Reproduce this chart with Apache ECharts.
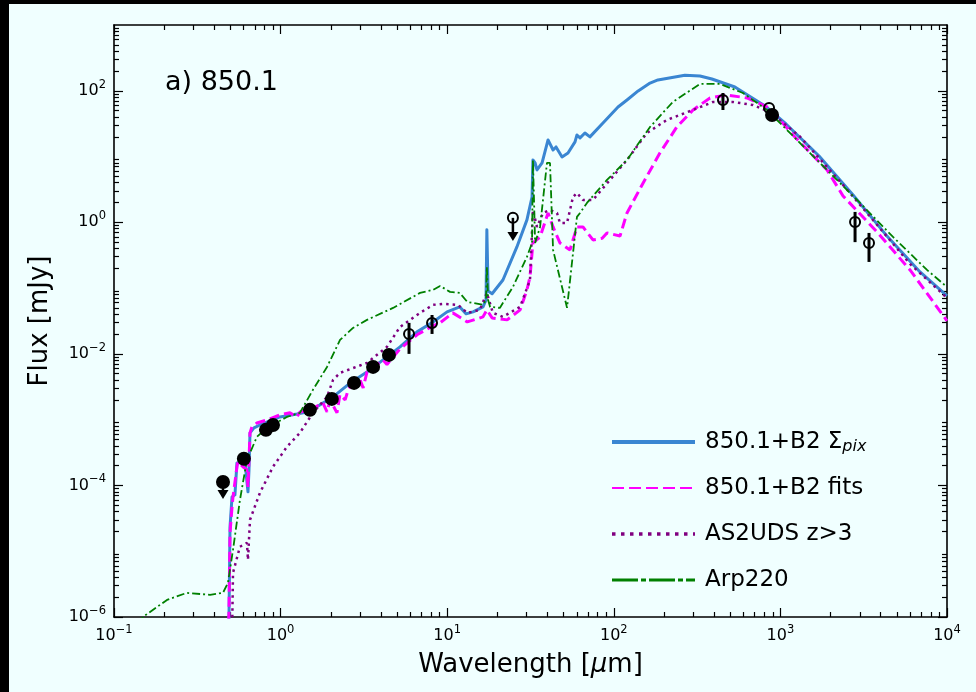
<!DOCTYPE html>
<html>
<head>
<meta charset="utf-8">
<script src="https://cdn.jsdelivr.net/npm/echarts@6/dist/echarts.min.js"></script>
<style>
  html, body { margin: 0; padding: 0; width: 976px; height: 692px; overflow: hidden; background: #000; }
  #chart { position: absolute; left: 9px; top: 4px; width: 967px; height: 688px; background: #f0ffff; }
</style>
</head>
<body>
<div id="chart"></div>
<script>
// Spectral energy distribution of 850.1: wavelength in µm, flux density in mJy.

// 850.1+B2 Σpix model
const sigmaPixWave = [0.483, 0.490, 0.497, 0.511, 0.532, 0.547, 0.611, 0.637, 0.646, 0.655, 0.692, 0.751, 0.863, 0.991, 1.253, 1.439, 1.652, 2.065, 2.61, 3.30, 4.12, 5.21, 6.59, 8.22, 9.98, 11.9, 13.0, 14.3, 16.4, 17.1, 17.3, 17.6, 18.6, 21.6, 26.2, 30.1, 32.3, 32.7, 33.7, 34.6, 37.1, 40.3, 43.2, 45.0, 48.9, 53.1, 58.5, 60.1, 62.7, 67.1, 71.9, 86.1, 106, 120, 140, 165, 184, 267, 329, 388, 533, 809, 1081, 1706, 2729, 4305, 6887, 10000];
const sigmaPixFlux = [3e-7, 1e-6, 2.35e-5, 6.7e-5, 7.2e-5, 2.2e-4, 2.3e-4, 8e-5, 1.7e-4, 6.3e-4, 7.5e-4, 8.3e-4, 9.6e-4, 1.1e-3, 1.22e-3, 1.31e-3, 1.57e-3, 2.22e-3, 3.6e-3, 5.3e-3, 8.1e-3, 1.28e-2, 2.16e-2, 3.06e-2, 4.35e-2, 5.18e-2, 4.06e-2, 4.35e-2, 5.18e-2, 6.6e-2, 0.77, 0.09, 0.082, 0.133, 0.423, 1.09, 2.43, 8.88, 8.0, 6.25, 8.0, 17.9, 12.6, 14.0, 9.86, 11.3, 16.7, 21.3, 19.2, 22.8, 19.9, 32.4, 56.7, 72.5, 99.4, 131, 146, 172, 168, 151, 114, 58.8, 31.3, 10.2, 2.61, 0.644, 0.176, 0.076];

// 850.1+B2 fits
const fitsWave = [0.483, 0.490, 0.497, 0.511, 0.518, 0.547, 0.555, 0.594, 0.628, 0.637, 0.646, 0.655, 0.673, 0.721, 0.828, 0.991, 1.137, 1.253, 1.306, 1.50, 1.795, 1.90, 1.981, 2.18, 2.27, 2.44, 2.55, 2.72, 3.0, 3.13, 3.30, 4.12, 4.35, 5.21, 6.59, 8.22, 9.06, 10.8, 13.2, 16.4, 17.3, 18.6, 22.9, 27.4, 30.1, 31.4, 32.7, 36.1, 40.3, 43.2, 47.5, 54.6, 60.1, 65.3, 75.0, 84.9, 91.0, 109, 120, 150, 189, 239, 299, 378, 478, 630, 831, 995, 1191, 1906, 2377, 3801, 5998, 10000];
const fitsFlux = [5e-7, 1.16e-6, 1.9e-5, 4.7e-5, 6.7e-5, 1.92e-4, 2.29e-4, 1.92e-4, 1.73e-4, 9.5e-5, 2.45e-4, 6.3e-4, 7.8e-4, 8.9e-4, 9.9e-4, 1.18e-3, 1.27e-3, 1.10e-3, 1.31e-3, 1.41e-3, 1.80e-3, 1.31e-3, 2.0e-3, 1.27e-3, 2.4e-3, 2.0e-3, 2.9e-3, 3.6e-3, 4.03e-3, 3.04e-3, 5.3e-3, 8.1e-3, 6.9e-3, 1.19e-2, 1.95e-2, 2.67e-2, 2.96e-2, 4.2e-2, 3.06e-2, 3.65e-2, 4.67e-2, 3.52e-2, 3.29e-2, 4.67e-2, 9.4e-2, 0.148, 0.486, 0.60, 1.39, 0.851, 0.486, 0.381, 0.851, 0.851, 0.54, 0.57, 0.69, 0.62, 1.39, 3.97, 11.3, 28.2, 51.1, 77.8, 86.3, 77.8, 56.7, 36.0, 21.3, 6.25, 2.52, 0.714, 0.189, 0.0318];

// AS2UDS z>3 composite
const as2udsWave = [0.511, 0.518, 0.570, 0.628, 0.637, 0.655, 0.751, 0.900, 1.091, 1.306, 1.563, 1.90, 2.065, 2.274, 3.30, 4.35, 5.21, 6.87, 8.22, 9.44, 11.6, 13.2, 15.7, 17.3, 18.8, 21.6, 27.4, 31.4, 32.7, 34.6, 37.6, 41.4, 45.6, 47.5, 52.4, 56.9, 60.1, 65.3, 75.0, 94.8, 120, 158, 208, 299, 394, 519, 684, 866, 1313, 2377, 3801, 5998, 10000];
const as2udsFlux = [5e-7, 4.7e-6, 1.17e-5, 1.34e-5, 7.4e-6, 3.0e-5, 7.7e-5, 1.92e-4, 3.86e-4, 6.3e-4, 1.27e-3, 2.22e-3, 4.03e-3, 5.14e-3, 7.3e-3, 1.28e-2, 2.57e-2, 4.2e-2, 5.56e-2, 5.75e-2, 5.56e-2, 4.2e-2, 4.67e-2, 8.46e-2, 4.2e-2, 3.65e-2, 5.18e-2, 0.133, 1.54, 0.851, 1.39, 1.54, 1.39, 0.979, 0.979, 2.43, 2.80, 2.19, 2.19, 4.41, 8.88, 22.8, 36.0, 51.1, 67.6, 67.6, 60.8, 47.6, 20.0, 3.7, 0.92, 0.233, 0.071];

// Arp220 template
const arp220Wave = [0.143, 0.149, 0.208, 0.274, 0.377, 0.451, 0.483, 0.518, 0.570, 0.628, 0.721, 0.828, 1.091, 1.306, 1.563, 1.90, 2.274, 2.72, 3.30, 4.73, 6.87, 8.22, 9.06, 10.4, 11.9, 13.2, 16.4, 17.1, 17.3, 17.6, 18.1, 20.7, 24.8, 30.1, 32.3, 32.7, 33.2, 33.7, 36.1, 39.7, 41.4, 43.2, 52.4, 60.1, 62.7, 69.0, 91.0, 120, 165, 226, 329, 434, 596, 831, 1507, 3006, 4742, 7586, 10000];
const arp220Flux = [7.7e-7, 1e-6, 1.82e-6, 2.33e-6, 2.17e-6, 2.33e-6, 3.3e-6, 1.05e-5, 6e-5, 2.45e-4, 5.48e-4, 7.5e-4, 1.1e-3, 1.27e-3, 2.84e-3, 6.34e-3, 1.63e-2, 2.48e-2, 3.29e-2, 5e-2, 8.46e-2, 9.4e-2, 0.108, 8.76e-2, 8.46e-2, 6.17e-2, 5.56e-2, 6.6e-2, 0.21, 6.6e-2, 5.18e-2, 5e-2, 0.104, 0.298, 0.486, 8.88, 2.19, 0.486, 0.851, 7.99, 7.99, 0.381, 0.05, 1.21, 1.39, 1.97, 4.41, 8.88, 28.2, 67.6, 127, 127, 92.6, 51.1, 11.3, 1.97, 0.6, 0.189, 0.104];

// Photometry: detections (filled)
const detWave = [0.602, 0.817, 0.900, 1.50, 2.03, 2.76, 3.59, 4.47, 891];
const detFlux = [2.54e-4, 7.0e-4, 8.3e-4, 1.41e-3, 2.07e-3, 3.62e-3, 6.34e-3, 9.66e-3, 42.8];
// Photometry with error bars (open)
const errWave = [5.90, 8.11, 452, 2806, 3403];
const errFlux = [0.0201, 0.0296, 72.4, 1.01, 0.486];
const errLow = [0.0100, 0.0201, 51.0, 0.50, 0.25];
const errHigh = [0.0296, 0.039, 92.6, 1.44, 0.69];
// Open point without error bar
const openWave = [855];
const openFlux = [54.8];
// Upper limits: filled and open, with the flux where the arrow ends
const limFilledWave = [0.451];
const limFilledFlux = [1.13e-4];
const limFilledEnd = [7.4e-5];
const limOpenWave = [24.8];
const limOpenFlux = [1.17];
const limOpenEnd = [0.62];

// Axis ticks
const xMajorTicks = [0.1, 1, 10, 100, 1000, 10000];
const yMajorTicks = [1e-6, 1e-4, 1e-2, 1, 100];
const xMinorTicks = minorDecades(-1, 3);
const yMinorTicks = minorDecades(-6, 2);

const seriesNames = ['850.1+B2 Σpix', '850.1+B2 fits', 'AS2UDS z>3', 'Arp220'];
const legendLabels = ['850.1+B2 Σ{sub|pix}', '850.1+B2 fits', 'AS2UDS z>3', 'Arp220'];

const FONT = 'DejaVu Sans';

function minorDecades(k0, k1) {
  const out = [];
  for (let k = k0; k <= k1; k++) {
    for (let m = 2; m <= 9; m++) out.push(+(m * Math.pow(10, k)).toPrecision(6));
  }
  return out;
}

function zip(a, b) { return a.map((v, i) => [v, b[i]]); }

function powLabel(v) {
  const e = Math.round(Math.log10(v));
  return '{b|10}{s|' + String(e).replace('-', '\u2212') + '}';
}

const labelRich = {
  b: { fontSize: 16, lineHeight: 24, fontFamily: FONT, color: '#000' },
  s: { fontSize: 11.5, lineHeight: 13, fontFamily: FONT, color: '#000', verticalAlign: 'top' }
};

function logAxis(dim, pos, ticks, len, extra) {
  const range = dim === 'x' ? { min: 0.1, max: 1e4 } : { min: 1e-6, max: 1e3 };
  return Object.assign({
    type: 'log', logBase: 10, position: pos, min: range.min, max: range.max, gridIndex: 0,
    axisLine: { show: false, onZero: false },
    axisTick: { show: true, inside: true, length: len, customValues: ticks, lineStyle: { color: '#000', width: 1.2 } },
    axisLabel: { show: false },
    splitLine: { show: false },
    minorTick: { show: false },
    minorSplitLine: { show: false },
    axisPointer: { show: false },
    silent: true
  }, extra);
}

const frameLine = { show: true, onZero: false, lineStyle: { color: '#000', width: 1.6 } };

const chart = echarts.init(document.getElementById('chart'), null, { renderer: 'canvas' });

const lineBase = { type: 'line', symbol: 'none', showSymbol: false, xAxisIndex: 0, yAxisIndex: 0, silent: true, clip: true, z: 2 };

chart.setOption({
  animation: false,
  backgroundColor: '#f0ffff',
  grid: { left: 105, right: 29, top: 21, bottom: 75, outerBoundsMode: 'none', containLabel: false },
  xAxis: [
    logAxis('x', 'bottom', xMajorTicks, 9, {
      axisLine: frameLine,
      axisLabel: { show: true, customValues: xMajorTicks, margin: 7, formatter: powLabel, rich: labelRich },
      name: 'Wavelength [{i|μ}m]',
      nameLocation: 'middle',
      nameGap: 35,
      nameTextStyle: {
        fontSize: 26, fontFamily: FONT, color: '#000',
        rich: { i: { fontSize: 26, fontFamily: FONT, fontStyle: 'italic', color: '#000' } }
      }
    }),
    logAxis('x', 'bottom', xMinorTicks, 5, {}),
    logAxis('x', 'top', xMajorTicks, 9, { axisLine: frameLine }),
    logAxis('x', 'top', xMinorTicks, 5, {})
  ],
  yAxis: [
    logAxis('y', 'left', yMajorTicks, 9, {
      axisLine: frameLine,
      axisLabel: { show: true, customValues: yMajorTicks, margin: 8, formatter: powLabel, rich: labelRich },
      name: 'Flux [mJy]',
      nameLocation: 'middle',
      nameGap: 61,
      nameTextStyle: { fontSize: 26, fontFamily: FONT, color: '#000' }
    }),
    logAxis('y', 'left', yMinorTicks, 5, {}),
    logAxis('y', 'right', yMajorTicks, 9, { axisLine: frameLine }),
    logAxis('y', 'right', yMinorTicks, 5, {})
  ],
  legend: {
    orient: 'vertical', left: 601, top: 425, padding: 0,
    itemWidth: 83, itemHeight: 14, itemGap: 20,
    selectedMode: false,
    itemStyle: { opacity: 0 },
    formatter: name => legendLabels[seriesNames.indexOf(name)],
    textStyle: {
      fontSize: 23, fontFamily: FONT, color: '#000', lineHeight: 26, padding: [0, 0, 0, 5],
      rich: { sub: { fontSize: 16, fontFamily: FONT, fontStyle: 'italic', color: '#000', lineHeight: 12, verticalAlign: 'bottom' } }
    },
    data: [
      { name: seriesNames[0], lineStyle: { width: 4, type: 'solid' } },
      { name: seriesNames[1], lineStyle: { width: 2.2, type: [12, 5] } },
      { name: seriesNames[2], lineStyle: { width: 3.5, type: [3.5, 5.5] } },
      { name: seriesNames[3], lineStyle: { width: 3, type: [26, 3, 5, 3] } }
    ]
  },
  graphic: [{
    type: 'text', x: 156, y: 78.5, silent: true,
    style: { text: 'a) 850.1', fontSize: 27, fontFamily: FONT, fill: '#000', align: 'left', verticalAlign: 'middle' }
  }],
  series: [
    Object.assign({}, lineBase, {
      name: seriesNames[0], data: zip(sigmaPixWave, sigmaPixFlux),
      lineStyle: { color: '#3a86d2', width: 3, join: 'round' }, itemStyle: { color: '#3a86d2' }
    }),
    Object.assign({}, lineBase, {
      name: seriesNames[1], data: zip(fitsWave, fitsFlux),
      lineStyle: { color: '#ff00ff', width: 3, type: [10, 5] }, itemStyle: { color: '#ff00ff' }
    }),
    Object.assign({}, lineBase, {
      name: seriesNames[2], data: zip(as2udsWave, as2udsFlux),
      lineStyle: { color: '#800080', width: 2.5, type: [2.5, 4] }, itemStyle: { color: '#800080' }
    }),
    Object.assign({}, lineBase, {
      name: seriesNames[3], data: zip(arp220Wave, arp220Flux),
      lineStyle: { color: '#008000', width: 1.8, type: [8, 3, 2, 3] }, itemStyle: { color: '#008000' }
    }),
    {
      // error bars
      type: 'custom', xAxisIndex: 0, yAxisIndex: 0, silent: true, z: 4,
      data: errWave.map((w, i) => [w, errLow[i], errHigh[i]]),
      encode: { x: 0, y: [1, 2] },
      renderItem: (params, api) => {
        const lo = api.coord([api.value(0), api.value(1)]);
        const hi = api.coord([api.value(0), api.value(2)]);
        return { type: 'line', shape: { x1: lo[0], y1: lo[1], x2: hi[0], y2: hi[1] }, style: { stroke: '#000', lineWidth: 3 } };
      }
    },
    {
      // upper-limit arrows
      type: 'custom', xAxisIndex: 0, yAxisIndex: 0, silent: true, z: 4,
      data: limFilledWave.map((w, i) => [w, limFilledFlux[i], limFilledEnd[i]])
        .concat(limOpenWave.map((w, i) => [w, limOpenFlux[i], limOpenEnd[i]])),
      encode: { x: 0, y: [1, 2] },
      renderItem: (params, api) => {
        const p = api.coord([api.value(0), api.value(1)]);
        const e = api.coord([api.value(0), api.value(2)]);
        return {
          type: 'group', children: [
            { type: 'line', shape: { x1: p[0], y1: p[1], x2: e[0], y2: e[1] }, style: { stroke: '#000', lineWidth: 2.5 } },
            { type: 'polygon', shape: { points: [[e[0] - 5.5, e[1] - 4], [e[0] + 5.5, e[1] - 4], [e[0], e[1] + 5]] }, style: { fill: '#000' } }
          ]
        };
      }
    },
    {
      type: 'scatter', xAxisIndex: 0, yAxisIndex: 0, silent: true, z: 5,
      data: zip(errWave, errFlux).concat(zip(openWave, openFlux), zip(limOpenWave, limOpenFlux)),
      symbol: 'circle', symbolSize: 10,
      itemStyle: { color: 'rgba(0,0,0,0)', borderColor: '#000', borderWidth: 2, opacity: 1 }
    },
    {
      type: 'scatter', xAxisIndex: 0, yAxisIndex: 0, silent: true, z: 6,
      data: zip(detWave, detFlux).concat(zip(limFilledWave, limFilledFlux)),
      symbol: 'circle', symbolSize: 14,
      itemStyle: { color: '#000', opacity: 1 }
    }
  ]
});
</script>
</body>
</html>
